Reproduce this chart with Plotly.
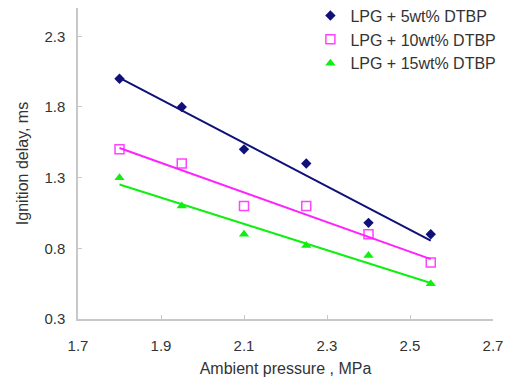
import numpy as np
import plotly.graph_objects as go

pressure = [1.80, 1.95, 2.10, 2.25, 2.40, 2.55]
delay_5 = [2.00, 1.80, 1.50, 1.40, 0.98, 0.90]
delay_10 = [1.50, 1.40, 1.10, 1.10, 0.90, 0.70]
delay_15 = [1.30, 1.10, 0.90, 0.82, 0.75, 0.55]
names = ["LPG + 5wt% DTBP", "LPG + 10wt% DTBP", "LPG + 15wt% DTBP"]
x_ticks = [1.7, 1.9, 2.1, 2.3, 2.5, 2.7]
y_ticks = [0.3, 0.8, 1.3, 1.8, 2.3]

series = [
    (delay_5, "#10107a", dict(symbol="diamond", size=8, color="#10107a")),
    (delay_10, "#ff22ff", dict(symbol="square-open", size=9, color="#ff44ff", line=dict(width=1.5))),
    (delay_15, "#11ee11", dict(symbol="triangle-up", size=9, color="#11ee11")),
]

fig = go.Figure()
x = np.array(pressure)
for (vals, lc, mk), nm in zip(series, names):
    fig.add_trace(go.Scatter(x=pressure, y=vals, mode="markers", name=nm, marker=mk))
for (vals, lc, mk), nm in zip(series, names):
    k, b = np.polyfit(x, np.array(vals), 1)
    xs = [pressure[0], pressure[-1]]
    fig.add_trace(go.Scatter(x=xs, y=[k * v + b for v in xs], mode="lines",
                             line=dict(color=lc, width=2), showlegend=False, hoverinfo="skip"))

fig.update_layout(
    width=510, height=380,
    margin=dict(l=78, r=17, t=8, b=61, autoexpand=False),
    paper_bgcolor="white", plot_bgcolor="white",
    font=dict(family="Liberation Sans, Arial, sans-serif", size=15, color="#333333"),
    legend=dict(x=0.56, y=1.03, xanchor="left", yanchor="top", bgcolor="rgba(0,0,0,0)",
                font=dict(size=16), tracegroupgap=0),
    xaxis=dict(range=[1.7, 2.7], tickvals=x_ticks, ticktext=[f"{v:.1f}" for v in x_ticks],
               showgrid=False, zeroline=False, showline=True, linecolor="#c8c8c8", linewidth=1.5,
               ticks="inside", ticklen=4, tickcolor="#c8c8c8", ticklabelstandoff=12,
               title=dict(text="Ambient pressure , MPa", font=dict(size=16), standoff=10)),
    yaxis=dict(range=[0.3, 2.5], tickvals=y_ticks, ticktext=[f"{v:.1f}" for v in y_ticks],
               showgrid=False, zeroline=False, showline=True, linecolor="#c8c8c8", linewidth=1.5,
               ticks="inside", ticklen=4, tickcolor="#c8c8c8", ticklabelstandoff=8,
               title=dict(text="Ignition delay, ms", font=dict(size=16), standoff=12)),
)
fig.write_html("out.html")
